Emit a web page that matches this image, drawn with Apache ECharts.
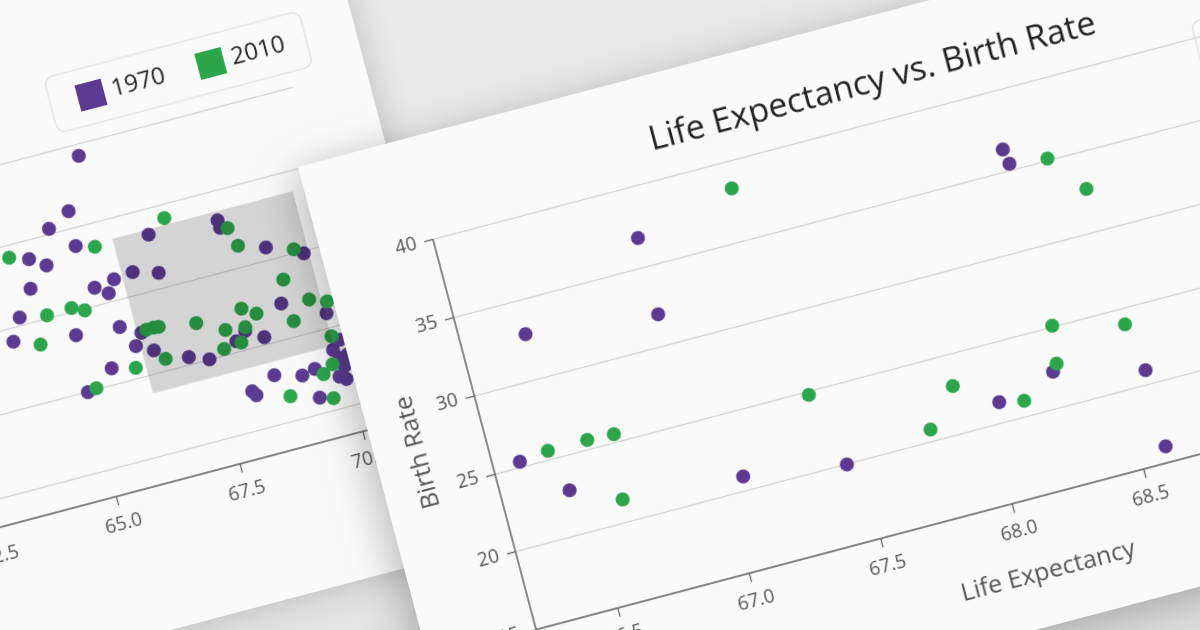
<!DOCTYPE html>
<html>
<head>
<meta charset="utf-8">
<script src="https://cdn.jsdelivr.net/npm/echarts@6/dist/echarts.min.js"></script>
<style>
  html, body { margin: 0; padding: 0; width: 1200px; height: 630px; overflow: hidden; background: #e8e8e8; }
  #stage { position: relative; width: 1200px; height: 630px; overflow: hidden;
           background: linear-gradient(160deg, #ececec 0%, #e6e6e6 60%, #dedede 100%); }
  .card { position: absolute; transform-origin: 0 0; transform: rotate(-14.8deg); background: #fafafa; }
  #back  { left: -854.7px; top: 177.3px; width: 1208px; height: 700px; box-shadow: 0 0 36px rgba(0,0,0,0.20); }
  #front { left: 298.3px;  top: 166.7px; width: 1208px; height: 636px; box-shadow: -8px 8px 40px rgba(0,0,0,0.26); }
  .chart { position: absolute; left: 0; top: 0; width: 100%; height: 100%; }
</style>
</head>
<body>
<div id="stage">
  <div id="back" class="card"><div id="backChart" class="chart"></div></div>
  <div id="front" class="card"><div id="frontChart" class="chart"></div></div>
</div>
<script>
// ---------------- data: [life expectancy, birth rate] ----------------
const seriesNames = ['1970', '2010'];
const purple1970 = [
  [66.92, 36.85], [66.92, 31.96], [66.43, 32.87], [66.29, 25.32], [66.44, 22.82],
  [67.45, 19.98], [67.07, 20.90], [68.27, 22.27], [68.60, 20.90], [68.05, 21.30],
  [68.60, 16.02], [68.30, 36.38], [68.31, 35.42],
  [65.99, 48.5], [65.52, 42.2], [65.06, 40.7], [65.48, 37.8], [64.53, 37.7],
  [64.83, 36.4], [64.41, 34.1], [69.08, 31.6], [69.77, 29.7], [66.04, 32.6],
  [65.63, 32.2], [65.87, 31.1], [69.09, 24.4], [69.90, 21.8], [64.06, 31.0],
  [63.82, 28.3], [65.04, 27.1], [65.91, 26.7], [66.12, 23.9], [65.55, 22.0],
  [64.98, 19.9], [69.84, 17.2], [69.93, 16.0], [69.98, 14.9], [69.40, 15.5],
  [69.13, 15.1], [69.95, 13.3], [68.10, 14.8], [68.16, 14.2], [69.35, 11.9],
  [70.09, 16.2], [69.83, 13.8], [70.02, 18.2]
];
const green2010 = [
  [66.40, 25.53], [66.55, 25.56], [66.65, 25.48], [66.62, 21.43], [67.38, 24.75],
  [67.90, 23.00], [67.78, 20.75], [68.31, 25.04], [68.57, 23.97], [68.29, 22.70],
  [68.14, 20.99], [67.30, 38.34], [68.45, 35.13], [68.56, 32.69],
  [69.60, 30.5], [65.84, 37.1], [64.16, 38.5], [69.25, 27.2], [69.64, 24.0],
  [69.97, 23.2], [65.09, 30.5], [65.33, 29.8], [64.59, 30.4], [64.32, 27.1],
  [69.24, 21.9], [69.88, 18.9], [69.76, 15.5], [69.54, 14.6], [68.80, 13.0],
  [69.61, 11.4], [65.16, 20.1], [66.01, 21.3]
];
// brush selection shown on the overview chart
const selectionX = [66.21, 69.87];
const selectionY = [17.7, 37.5];
// axis ranges
const overviewX = [50, 70.4];
const overviewY = [6.5, 50];
const detailX = [66.19, 69.94];
const detailY = [15, 40];
const titleText = 'Life Expectancy vs. Birth Rate';
const xName = 'Life Expectancy';
const yName = 'Birth Rate';

// ---------------- styling ----------------
const FONT = 'Open Sans';
const COLORS = ['#5c3a92', '#2ba64b'];
const axisCommon = {
  axisLine: { show: true, lineStyle: { color: '#666', width: 1.5 } },
  axisTick: { show: true, length: 9, lineStyle: { color: '#666', width: 1.3 } },
  splitLine: { lineStyle: { color: '#d2d2d2', width: 1.2 } },
  nameTextStyle: { fontFamily: FONT, fontSize: 25, color: '#555' }
};
function legendOpt(left, top) {
  return {
    data: seriesNames, left: left, top: top, icon: 'rect', orient: 'horizontal',
    itemWidth: 27, itemHeight: 27, itemGap: 34, padding: [15, 22, 15, 28],
    borderColor: '#d8d8d8', borderWidth: 1, borderRadius: 9,
    textStyle: { fontFamily: FONT, fontSize: 24, color: '#222', padding: [0, 0, 0, 3] }
  };
}
function scatterSeries() {
  return [
    { name: seriesNames[0], type: 'scatter', data: purple1970, symbolSize: 14, clip: true,
      itemStyle: { color: COLORS[0], opacity: 1 } },
    { name: seriesNames[1], type: 'scatter', data: green2010, symbolSize: 14, clip: true,
      itemStyle: { color: COLORS[1], opacity: 1 } }
  ];
}
function titleOpt() {
  return { text: titleText, left: 572, top: 43, textAlign: 'center',
           textStyle: { fontFamily: FONT, fontSize: 34, fontWeight: 'normal', color: '#222' } };
}

// ---------------- overview (back) chart ----------------
const back = echarts.init(document.getElementById('backChart'), null, { devicePixelRatio: 2 });
back.setOption({
  animation: false,
  color: COLORS,
  textStyle: { fontFamily: FONT },
  title: titleOpt(),
  legend: legendOpt(894, 134),
  grid: { left: 93, right: 75, top: 206, bottom: 143, containLabel: false, outerBoundsMode: 'none' },
  xAxis: Object.assign({}, axisCommon, {
    type: 'value', min: overviewX[0], max: overviewX[1], interval: 2.5,
    splitLine: { show: false },
    name: xName, nameLocation: 'middle', nameGap: 62,
    axisLabel: { fontFamily: FONT, fontSize: 19, color: '#555', margin: 19, showMaxLabel: false,
                 formatter: v => v.toFixed(1) }
  }),
  yAxis: Object.assign({}, axisCommon, {
    type: 'value', min: overviewY[0], max: overviewY[1], splitNumber: 5,
    name: yName, nameLocation: 'middle', nameGap: 56,
    axisLabel: { fontFamily: FONT, fontSize: 19, color: '#555', margin: 17, showMinLabel: false }
  }),
  series: scatterSeries().concat([{
    type: 'scatter', data: [], z: 6, silent: true,
    markArea: { silent: true, z: 6, itemStyle: { color: 'rgba(0,0,0,0.15)' },
      data: [[{ xAxis: selectionX[0], yAxis: selectionY[0] }, { xAxis: selectionX[1], yAxis: selectionY[1] }]] }
  }])
});

// ---------------- detail (front) chart ----------------
const front = echarts.init(document.getElementById('frontChart'), null, { devicePixelRatio: 2 });
front.setOption({
  animation: false,
  color: COLORS,
  textStyle: { fontFamily: FONT },
  title: titleOpt(),
  legend: legendOpt(900, 88),
  grid: { left: 112, right: 76, top: 104.7, bottom: 127.8, containLabel: false, outerBoundsMode: 'none' },
  xAxis: Object.assign({}, axisCommon, {
    type: 'value', min: detailX[0], max: detailX[1], splitNumber: 8, minInterval: 0.5, maxInterval: 0.5,
    splitLine: { show: false },
    name: xName, nameLocation: 'middle', nameGap: 62,
    axisLabel: { fontFamily: FONT, fontSize: 19, color: '#555', margin: 19,
                 showMinLabel: false, showMaxLabel: false, formatter: v => v.toFixed(1) }
  }),
  yAxis: Object.assign({}, axisCommon, {
    type: 'value', min: detailY[0], max: detailY[1], interval: 5,
    name: yName, nameLocation: 'middle', nameGap: 56,
    axisLabel: { fontFamily: FONT, fontSize: 19, color: '#555', margin: 17 }
  }),
  series: scatterSeries()
});
</script>
</body>
</html>
